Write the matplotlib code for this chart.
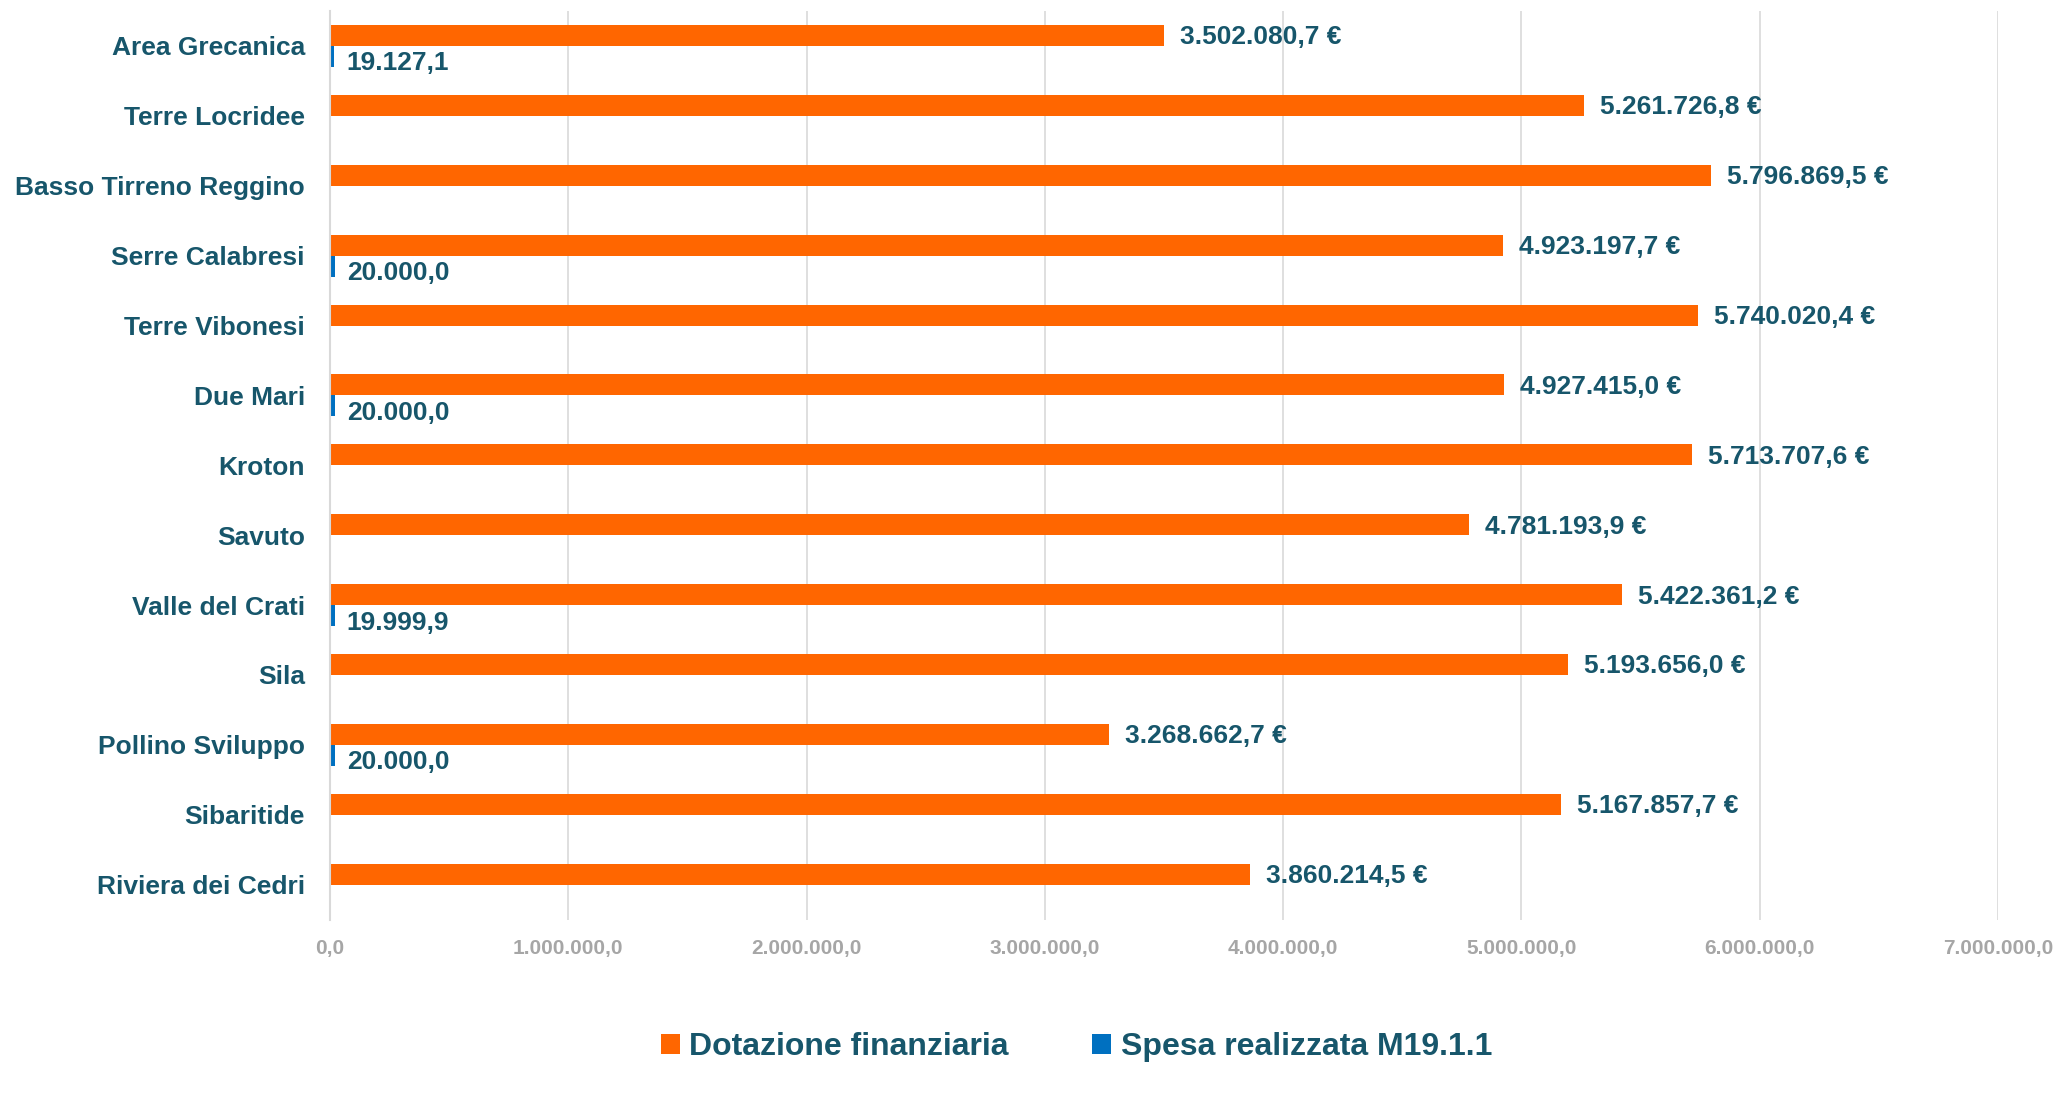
import matplotlib
matplotlib.use("Agg")
import matplotlib.pyplot as plt
from matplotlib.ticker import FuncFormatter
from matplotlib import font_manager

# data
categories = ["Area Grecanica", "Terre Locridee", "Basso Tirreno Reggino",
              "Serre Calabresi", "Terre Vibonesi", "Due Mari", "Kroton",
              "Savuto", "Valle del Crati", "Sila", "Pollino Sviluppo",
              "Sibaritide", "Riviera dei Cedri"]
dotazione = [3502080.7, 5261726.8, 5796869.5, 4923197.7, 5740020.4,
             4927415.0, 5713707.6, 4781193.9, 5422361.2, 5193656.0,
             3268662.7, 5167857.7, 3860214.5]
spesa = [19127.1, 0, 0, 20000.0, 0, 20000.0, 0, 0, 19999.9, 0,
         20000.0, 0, 0]
xticks = [0, 1e6, 2e6, 3e6, 4e6, 5e6, 6e6, 7e6]

ORANGE = "#FF6600"
BLUE = "#0070C0"
TEAL = "#17566B"
GREY = "#A6A6A6"

plt.rcParams['font.family'] = ['Liberation Sans', 'DejaVu Sans']
installed = {f.name for f in font_manager.fontManager.ttflist}
narrow = 'Liberation Sans Narrow' if 'Liberation Sans Narrow' in installed else 'Liberation Sans'


def it_fmt(v):
    # italian number format: 1.234.567,8
    s = f"{v:,.1f}"
    return s.replace(",", "X").replace(".", ",").replace("X", ".")


fig = plt.figure(figsize=(20.62, 11), dpi=100)
ax = fig.add_axes([0.160, 0.164, 0.809, 0.826])

pos = list(range(len(categories)))
h = 0.3
b1 = ax.barh([p - h / 2 for p in pos], dotazione, height=h, color=ORANGE,
             label="Dotazione finanziaria")
b2 = ax.barh([p + h / 2 for p in pos], spesa, height=h, color=BLUE,
             label="Spesa realizzata M19.1.1")

for rect, v in zip(b1, dotazione):
    ax.annotate(it_fmt(v) + " \u20ac", (v, rect.get_y() + rect.get_height() / 2),
                xytext=(16, -2), textcoords="offset pixels",
                va="center", ha="left", fontsize=19, fontweight="bold", color=TEAL)
for rect, v in zip(b2, spesa):
    if v > 0:
        ax.annotate(it_fmt(v), (v, rect.get_y() + rect.get_height() / 2),
                    xytext=(12, -7), textcoords="offset pixels",
                    va="center", ha="left", fontsize=19, fontweight="bold",
                    color=TEAL)

ax.set_ylim(len(categories) - 0.5, -0.5)
ax.set_xlim(0, 7e6)
ax.set_yticks(pos)
ax.set_yticklabels(categories, fontsize=19, fontweight="bold", color=TEAL)
ax.set_xticks(xticks)
ax.xaxis.set_major_formatter(FuncFormatter(lambda v, p: it_fmt(v)))
for lab in ax.get_xticklabels():
    lab.set_fontweight("bold")
    lab.set_family(narrow)
ax.tick_params(axis="x", labelsize=15, labelcolor=GREY, length=0, pad=14)
ax.tick_params(axis="y", length=0, pad=18)

ax.grid(axis="x", color="#D9D9D9", linewidth=1.2)
ax.set_axisbelow(True)
for side in ["top", "right", "bottom"]:
    ax.spines[side].set_visible(False)
ax.spines["left"].set_color("#D9D9D9")
ax.spines["left"].set_linewidth(1.5)

leg = fig.legend(handles=[b1, b2], loc="center", bbox_to_anchor=(0.522, 0.048),
                 ncol=2, frameon=False, fontsize=23, handlelength=0.6,
                 handleheight=0.6, handletextpad=0.3, columnspacing=2.6)
for t in leg.get_texts():
    t.set_color(TEAL)
    t.set_fontweight("bold")

fig.savefig("out.png", dpi=100)
